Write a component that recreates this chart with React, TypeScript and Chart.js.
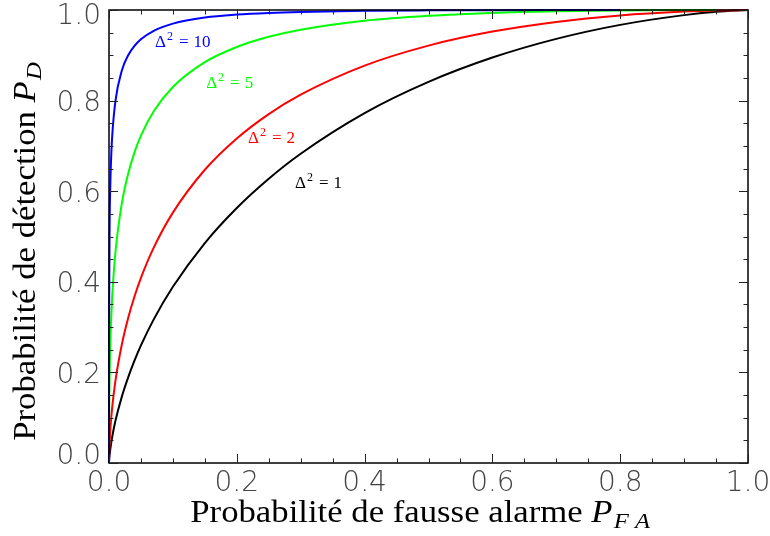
import React, { useEffect, useRef } from "react";
import { Chart, registerables } from "chart.js";

Chart.register(...registerables);

// False-alarm probabilities (x)
const pfa = [0, 0.00001, 0.0001, 0.001, 0.002, 0.003, 0.005, 0.01, 0.02, 0.03, 0.04, 0.05, 0.07, 0.1, 0.15, 0.2, 0.25, 0.3, 0.4, 0.5, 0.6, 0.7, 0.8, 0.9, 0.95, 1.0];

// Detection probabilities for each Δ²
const pd1 = [0, 0.0005, 0.0033, 0.0183, 0.0302, 0.0402, 0.0575, 0.0925, 0.146, 0.189, 0.2263, 0.2595, 0.317, 0.389, 0.4856, 0.563, 0.6276, 0.6828, 0.7724, 0.8413, 0.895, 0.9363, 0.9672, 0.9887, 0.9959, 1.0];
const pd2 = [0, 0.0022, 0.0106, 0.0469, 0.0716, 0.0911, 0.1226, 0.1809, 0.2611, 0.3203, 0.3681, 0.4087, 0.4753, 0.5527, 0.6473, 0.7165, 0.7703, 0.8132, 0.8772, 0.9214, 0.9523, 0.9737, 0.988, 0.9965, 0.9989, 1.0];
const pd5 = [0, 0.0212, 0.069, 0.1966, 0.2605, 0.3043, 0.3669, 0.4641, 0.5722, 0.6387, 0.6862, 0.7228, 0.7764, 0.8301, 0.8849, 0.9184, 0.9408, 0.9565, 0.9763, 0.9873, 0.9936, 0.9971, 0.999, 0.9998, 0.99995];
const pd10 = [0, 0.135, 0.2888, 0.5287, 0.6118, 0.6606, 0.7211, 0.7985, 0.8661, 0.9, 0.9209, 0.9354, 0.9541, 0.97, 0.9833, 0.9899, 0.9936, 0.9958, 0.9982, 0.9992, 0.9997, 0.9999, 1.0];

const deltaSq = ["1", "2", "5", "10"];
const seriesColors = ["#000000", "#ff0000", "#00ff00", "#0000ff"];
const labelX = [0.291, 0.2175, 0.152, 0.072];
const labelY = [0.607, 0.706, 0.828, 0.918];

const xTickValues = [0, 0.2, 0.4, 0.6, 0.8, 1.0];
const xTickLabels = ["0.0", "0.2", "0.4", "0.6", "0.8", "1.0"];
const yTickValues = [0, 0.2, 0.4, 0.6, 0.8, 1.0];
const yTickLabels = ["0.0", "0.2", "0.4", "0.6", "0.8", "1.0"];

const xTitle = "Probabilité de fausse alarme";
const yTitle = "Probabilité de détection";

const TICK_FONT = "200 28px 'DejaVu Sans ExtraLight', 'DejaVu Sans'";
const TITLE_SIZE = 31;
const TITLE_STRETCH = 1.12;
const SERIF = "'Liberation Serif', 'DejaVu Serif', serif";

function toPoints(ys: number[]) {
  return ys.map((y, i) => ({ x: pfa[i], y }));
}

function drawMathTitle(
  ctx: CanvasRenderingContext2D,
  text: string,
  sym: string,
  sub: string,
  x: number,
  y: number,
) {
  const subSize = Math.round(TITLE_SIZE * 0.72);
  ctx.font = `${TITLE_SIZE}px ${SERIF}`;
  const w1 = ctx.measureText(text + " ").width;
  ctx.font = `italic ${TITLE_SIZE}px ${SERIF}`;
  const w2 = ctx.measureText(sym).width;
  ctx.font = `italic ${subSize}px ${SERIF}`;
  const w3 = ctx.measureText(sub).width;
  const total = (w1 + w2 + w3 + 2) * TITLE_STRETCH;
  ctx.save();
  ctx.translate(x - total / 2, y);
  ctx.scale(TITLE_STRETCH, 1);
  let cx = 0;
  ctx.textBaseline = "alphabetic";
  ctx.textAlign = "left";
  ctx.fillStyle = "#000";
  ctx.font = `${TITLE_SIZE}px ${SERIF}`;
  ctx.fillText(text + " ", cx, 0);
  cx += w1;
  ctx.font = `italic ${TITLE_SIZE}px ${SERIF}`;
  ctx.fillText(sym, cx, 0);
  cx += w2 + 1;
  ctx.font = `italic ${subSize}px ${SERIF}`;
  ctx.fillText(sub.split("").join(" "), cx, 6);
  ctx.restore();
}

const framePlugin = {
  id: "framePlugin",
  afterDraw(chart: any) {
    const { ctx, chartArea } = chart;
    const xs = chart.scales.x;
    const ys = chart.scales.y;
    const { left, right, top, bottom } = chartArea;
    ctx.save();
    ctx.strokeStyle = "#000";
    ctx.lineWidth = 1.5;
    ctx.strokeRect(left, top, right - left, bottom - top);
    ctx.lineWidth = 1;
    ctx.strokeStyle = "#222";
    const majorLen = 9;
    const minorLen = 4.5;
    for (let i = 0; i < xTickValues.length; i++) {
      const v = xTickValues[i];
      const px = Math.round(xs.getPixelForValue(v)) + 0.5;
      ctx.beginPath();
      ctx.moveTo(px, bottom);
      ctx.lineTo(px, bottom - majorLen);
      ctx.moveTo(px, top);
      ctx.lineTo(px, top + majorLen);
      ctx.stroke();
      if (i < xTickValues.length - 1) {
        const step = (xTickValues[i + 1] - v) / 4;
        for (let k = 1; k < 4; k++) {
          const mx = Math.round(xs.getPixelForValue(v + k * step)) + 0.5;
          ctx.beginPath();
          ctx.moveTo(mx, bottom);
          ctx.lineTo(mx, bottom - minorLen);
          ctx.moveTo(mx, top);
          ctx.lineTo(mx, top + minorLen);
          ctx.stroke();
        }
      }
    }
    for (let i = 0; i < yTickValues.length; i++) {
      const v = yTickValues[i];
      const py = Math.round(ys.getPixelForValue(v)) + 0.5;
      ctx.beginPath();
      ctx.moveTo(left, py);
      ctx.lineTo(left + majorLen, py);
      ctx.moveTo(right, py);
      ctx.lineTo(right - majorLen, py);
      ctx.stroke();
      if (i < yTickValues.length - 1) {
        const step = (yTickValues[i + 1] - v) / 4;
        for (let k = 1; k < 4; k++) {
          const my = Math.round(ys.getPixelForValue(v + k * step)) + 0.5;
          ctx.beginPath();
          ctx.moveTo(left, my);
          ctx.lineTo(left + minorLen, my);
          ctx.moveTo(right, my);
          ctx.lineTo(right - minorLen, my);
          ctx.stroke();
        }
      }
    }
    // tick labels
    ctx.fillStyle = "#444";
    ctx.font = TICK_FONT;
    ctx.textBaseline = "alphabetic";
    ctx.textAlign = "center";
    xTickValues.forEach((v, i) => {
      ctx.fillText(xTickLabels[i], xs.getPixelForValue(v), bottom + 28);
    });
    ctx.textAlign = "right";
    yTickValues.forEach((v, i) => {
      let cy = ys.getPixelForValue(v);
      cy = Math.min(Math.max(cy, top + 3), bottom - 10);
      ctx.fillText(yTickLabels[i], left - 8, cy + 10.5);
    });
    // axis titles
    drawMathTitle(ctx, xTitle, "P", "FA", 416, 522);
    ctx.save();
    ctx.translate(35, 251);
    ctx.rotate(-Math.PI / 2);
    drawMathTitle(ctx, yTitle, "P", "D", 0, 0);
    ctx.restore();
    // curve labels
    const fs = 17;
    ctx.textAlign = "left";
    deltaSq.forEach((d, i) => {
      let x = xs.getPixelForValue(labelX[i]);
      const y = ys.getPixelForValue(labelY[i]);
      ctx.fillStyle = seriesColors[i];
      ctx.font = `${fs}px ${SERIF}`;
      ctx.fillText("Δ", x, y);
      x += ctx.measureText("Δ").width + 1;
      ctx.font = `${Math.round(fs * 0.7)}px ${SERIF}`;
      ctx.fillText("2", x, y - 7);
      x += ctx.measureText("2").width + 6;
      ctx.font = `${fs}px ${SERIF}`;
      ctx.fillText("=", x, y);
      x += ctx.measureText("=").width + 5;
      ctx.fillText(d, x, y);
    });
    ctx.restore();
  },
};

export default function App() {
  const canvasRef = useRef<HTMLCanvasElement | null>(null);

  useEffect(() => {
    const canvas = canvasRef.current;
    if (!canvas) return;
    const allSeries = [pd1, pd2, pd5, pd10];
    const chart = new Chart(canvas, {
      type: "line",
      data: {
        datasets: allSeries.map((ys, i) => ({
          label: "Δ² = " + deltaSq[i],
          data: toPoints(ys),
          borderColor: seriesColors[i],
          backgroundColor: seriesColors[i],
          borderWidth: 2,
          pointRadius: 0,
          fill: false,
          cubicInterpolationMode: "monotone" as const,
          clip: false as any,
          order: 3 - i,
        })),
      },
      options: {
        animation: false,
        responsive: false,
        maintainAspectRatio: false,
        layout: { padding: { left: 109, right: 22, top: 10, bottom: 73 } },
        plugins: {
          legend: { display: false },
          tooltip: { enabled: false },
          title: { display: false },
        },
        scales: {
          x: { type: "linear", min: 0, max: 1, display: false },
          y: { type: "linear", min: 0, max: 1, display: false },
        },
      },
      plugins: [framePlugin],
    });
    return () => chart.destroy();
  }, []);

  return (
    <div style={{ position: "absolute", left: 0, top: 0, width: 770, height: 536, background: "#fff" }}>
      <canvas ref={canvasRef} width={770} height={536} style={{ width: 770, height: 536 }} />
    </div>
  );
}
